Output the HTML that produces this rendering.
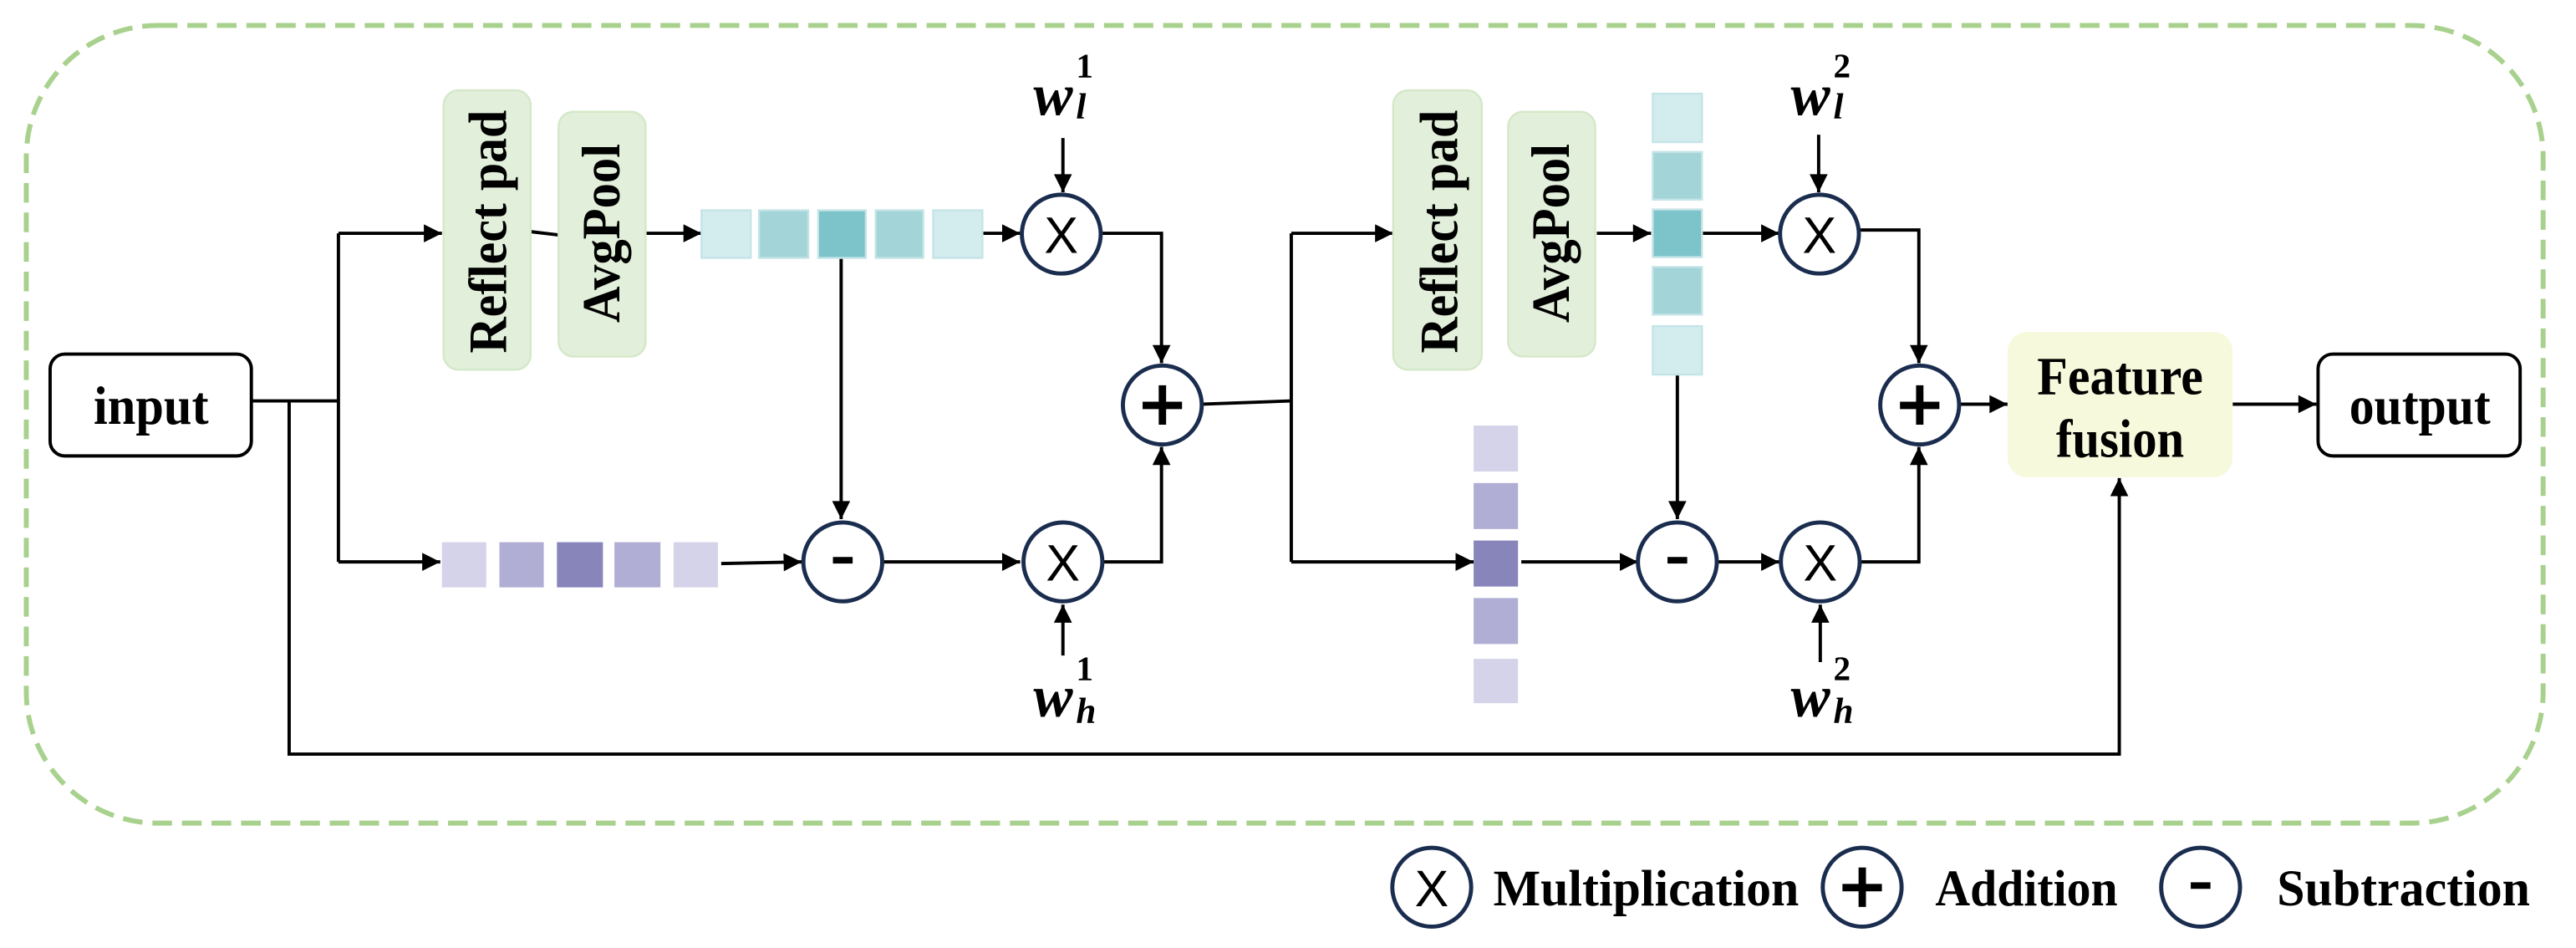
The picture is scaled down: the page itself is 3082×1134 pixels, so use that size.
<!DOCTYPE html>
<html><head><meta charset="utf-8"><style>
html,body{margin:0;padding:0;background:#fff;}
svg{display:block;}
text{font-family:"Liberation Serif",serif;font-weight:bold;fill:#000;}
.s{font-family:"Liberation Sans",sans-serif;font-weight:normal;}
</style></head><body>
<svg width="3082" height="1134" viewBox="0 0 1568 577" preserveAspectRatio="none" xmlns="http://www.w3.org/2000/svg">
<defs>
<marker id="a" viewBox="0 0 10 10" refX="10" refY="5" markerWidth="6" markerHeight="5.5" markerUnits="strokeWidth" orient="auto">
<path d="M0,0 L10,5 L0,10 z" fill="#000"/></marker>
</defs>
<rect x="16" y="15.5" width="1532" height="485.5" rx="80" ry="80" fill="none" stroke="#a9d18e" stroke-width="3" stroke-dasharray="12,6"/>

<g fill="none" stroke="#000" stroke-width="2">
<path d="M153,244 L206,244"/>
<path d="M206,142 L206,342"/>
<path d="M206,142 L269,142" marker-end="url(#a)"/>
<path d="M206,342 L268,342" marker-end="url(#a)"/>
<path d="M176,244 L176,459 L1290,459 L1290,291" marker-end="url(#a)"/>
<path d="M323,141 L340,143"/>
<path d="M393,142 L427,142" marker-end="url(#a)"/>
<path d="M598,142 L621,142" marker-end="url(#a)"/>
<path d="M647,84 L647,117" marker-end="url(#a)"/>
<path d="M671,142 L707,142 L707,221" marker-end="url(#a)"/>
<path d="M512,157 L512,316" marker-end="url(#a)"/>
<path d="M439,343 L488,342" marker-end="url(#a)"/>
<path d="M537,342 L621,342" marker-end="url(#a)"/>
<path d="M647,399 L647,368" marker-end="url(#a)"/>
<path d="M671,342 L707,342 L707,272" marker-end="url(#a)"/>
<path d="M732,246 L786,244"/>
<path d="M786,142 L786,342"/>
<path d="M786,142 L848,142" marker-end="url(#a)"/>
<path d="M786,342 L897,342" marker-end="url(#a)"/>
<path d="M972,142 L1005,142" marker-end="url(#a)"/>
<path d="M1036,142 L1083,142" marker-end="url(#a)"/>
<path d="M1107,82 L1107,117" marker-end="url(#a)"/>
<path d="M1132,140 L1168,140 L1168,221" marker-end="url(#a)"/>
<path d="M1021,228 L1021,316" marker-end="url(#a)"/>
<path d="M926,342 L997,342" marker-end="url(#a)"/>
<path d="M1046,342 L1083,342" marker-end="url(#a)"/>
<path d="M1108,403 L1108,368" marker-end="url(#a)"/>
<path d="M1133,342 L1168,342 L1168,272" marker-end="url(#a)"/>
<path d="M1193,246 L1222,246" marker-end="url(#a)"/>
<path d="M1359,246 L1410,246" marker-end="url(#a)"/>
</g>

<rect x="30.5" y="215.5" width="122.5" height="62" rx="9" fill="#fff" stroke="#000" stroke-width="2"/>
<text x="92" y="258" font-size="33" text-anchor="middle" textLength="70" lengthAdjust="spacingAndGlyphs">input</text>
<rect x="1411" y="215.5" width="123" height="62" rx="9" fill="#fff" stroke="#000" stroke-width="2"/>
<text x="1473" y="258" font-size="33" text-anchor="middle" textLength="86" lengthAdjust="spacingAndGlyphs">output</text>

<g fill="#e2efda" stroke="#d4e8c8" stroke-width="1.2">
<rect x="270" y="55" width="53" height="170" rx="9"/>
<rect x="340" y="68" width="53" height="149" rx="9"/>
<rect x="848" y="55" width="54" height="170" rx="9"/>
<rect x="918" y="68" width="53" height="149" rx="9"/>
</g>
<text transform="translate(308,141) rotate(-90)" font-size="33" text-anchor="middle" textLength="148" lengthAdjust="spacingAndGlyphs">Reflect pad</text>
<text transform="translate(377,142) rotate(-90)" font-size="33" text-anchor="middle" textLength="109" lengthAdjust="spacingAndGlyphs">AvgPool</text>
<text transform="translate(887,141) rotate(-90)" font-size="33" text-anchor="middle" textLength="148" lengthAdjust="spacingAndGlyphs">Reflect pad</text>
<text transform="translate(955,142) rotate(-90)" font-size="33" text-anchor="middle" textLength="109" lengthAdjust="spacingAndGlyphs">AvgPool</text>

<rect x="1222" y="202" width="137" height="88.5" rx="12" fill="#f7f9dc"/>
<text x="1290.5" y="240" font-size="33" text-anchor="middle" textLength="101" lengthAdjust="spacingAndGlyphs">Feature</text>
<text x="1290.5" y="278" font-size="33" text-anchor="middle" textLength="78" lengthAdjust="spacingAndGlyphs">fusion</text>

<g stroke="#c5e4e7" stroke-width="1.2">
<rect x="427" y="128" width="30" height="29" fill="#d3ecee"/>
<rect x="462" y="128" width="30" height="29" fill="#a3d4d8"/>
<rect x="498" y="128" width="29" height="29" fill="#7cc4c9"/>
<rect x="533" y="128" width="29" height="29" fill="#a3d4d8"/>
<rect x="568" y="128" width="30" height="29" fill="#d3ecee"/>
<rect x="1006" y="57" width="30" height="29.5" fill="#d3ecee"/>
<rect x="1006" y="92.5" width="30" height="29" fill="#a3d4d8"/>
<rect x="1006" y="127.5" width="30" height="29" fill="#7cc4c9"/>
<rect x="1006" y="162.5" width="30" height="29" fill="#a3d4d8"/>
<rect x="1006" y="198.5" width="30" height="29.5" fill="#d3ecee"/>
</g>
<rect x="269" y="330" width="27" height="27.5" fill="#d5d3ea"/>
<rect x="304" y="330" width="27" height="27.5" fill="#b0aed4"/>
<rect x="339" y="330" width="28" height="27.5" fill="#8885bb"/>
<rect x="374" y="330" width="28" height="27.5" fill="#b0aed4"/>
<rect x="410" y="330" width="27" height="27.5" fill="#d5d3ea"/>
<rect x="897" y="259" width="27" height="28" fill="#d5d3ea"/>
<rect x="897" y="294" width="27" height="28" fill="#b0aed4"/>
<rect x="897" y="329" width="27" height="28" fill="#8885bb"/>
<rect x="897" y="364" width="27" height="28" fill="#b0aed4"/>
<rect x="897" y="401" width="27" height="27" fill="#d5d3ea"/>

<g fill="#fff" stroke="#1b2d4f" stroke-width="2.5">
<ellipse cx="646" cy="142.5" rx="24" ry="24"/>
<ellipse cx="647" cy="342" rx="24" ry="24"/>
<ellipse cx="707.5" cy="246.5" rx="24" ry="24"/>
<ellipse cx="513" cy="342" rx="24" ry="24"/>
<ellipse cx="1107.5" cy="142.5" rx="24" ry="24"/>
<ellipse cx="1108" cy="342" rx="24" ry="24"/>
<ellipse cx="1168.5" cy="246.5" rx="24" ry="24"/>
<ellipse cx="1021" cy="342" rx="24" ry="24"/>
<ellipse cx="871.5" cy="540" rx="24" ry="24"/>
<ellipse cx="1133.5" cy="540" rx="24" ry="24"/>
<ellipse cx="1339.5" cy="540" rx="24" ry="24"/>
</g>
<g font-size="31" text-anchor="middle">
<text class="s" x="646" y="154">X</text>
<text class="s" x="647" y="353.5">X</text>
<text class="s" x="1107.5" y="154">X</text>
<text class="s" x="1108" y="353.5">X</text>
<text class="s" x="871.5" y="551.5">X</text>
</g>
<g fill="#000">
<rect x="695.5" y="244.5" width="24" height="4.5"/><rect x="705.3" y="234.5" width="4.5" height="24"/>
<rect x="1156.5" y="244.5" width="24" height="4.5"/><rect x="1166.3" y="234.5" width="4.5" height="24"/>
<rect x="1121.5" y="538" width="24" height="4.5"/><rect x="1131.3" y="528" width="4.5" height="24"/>
<rect x="507" y="339" width="12" height="4"/>
<rect x="1015" y="339" width="12" height="4"/>
<rect x="1333.5" y="537" width="12" height="4"/>
</g>

<text x="629" y="70" font-size="36" font-style="italic">w</text><text x="655" y="47" font-size="21">1</text><text x="655" y="72" font-size="22" font-style="italic">l</text>
<text x="629" y="436" font-size="36" font-style="italic">w</text><text x="655" y="414" font-size="21">1</text><text x="655" y="440" font-size="22" font-style="italic">h</text>
<text x="1090" y="70" font-size="36" font-style="italic">w</text><text x="1116" y="47" font-size="21">2</text><text x="1116" y="72" font-size="22" font-style="italic">l</text>
<text x="1090" y="436" font-size="36" font-style="italic">w</text><text x="1116" y="414" font-size="21">2</text><text x="1116" y="440" font-size="22" font-style="italic">h</text>

<text x="909" y="551" font-size="31" textLength="186" lengthAdjust="spacingAndGlyphs">Multiplication</text>
<text x="1178" y="551" font-size="31" textLength="111" lengthAdjust="spacingAndGlyphs">Addition</text>
<text x="1386" y="551" font-size="31" textLength="154" lengthAdjust="spacingAndGlyphs">Subtraction</text>
</svg>
</body></html>
